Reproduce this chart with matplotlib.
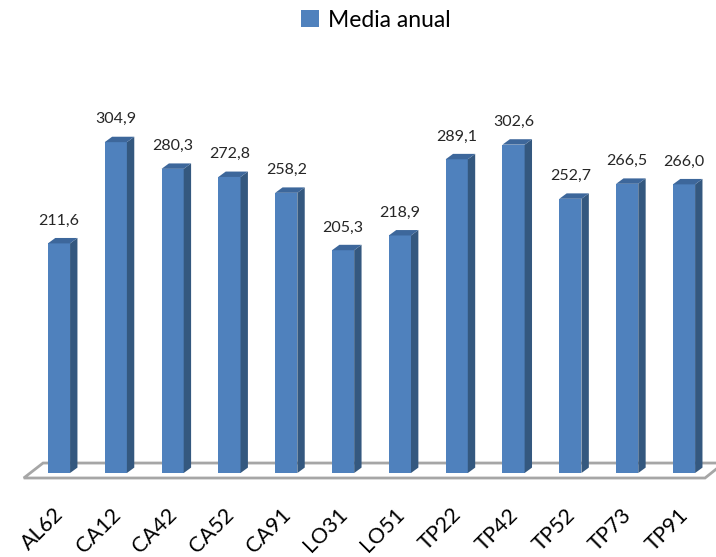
import matplotlib
matplotlib.use("Agg")
import matplotlib.pyplot as plt
from matplotlib.patches import Polygon, Patch
import numpy as np

plt.rcParams['font.family'] = ['Lato', 'DejaVu Sans']

# datos
estaciones = ["AL62", "CA12", "CA42", "CA52", "CA91", "LO31", "LO51",
              "TP22", "TP42", "TP52", "TP73", "TP91"]
media_anual = [211.6, 304.9, 280.3, 272.8, 258.2, 205.3, 218.9,
               289.1, 302.6, 252.7, 266.5, 266.0]
etiquetas = ["211,6", "304,9", "280,3", "272,8", "258,2", "205,3", "218,9",
             "289,1", "302,6", "252,7", "266,5", "266,0"]

c_frente = "#4F81BD"
c_lado = "#34587F"
c_techo = "#3D679B"

fig = plt.figure(figsize=(7.16, 5.57), dpi=100)
ax = fig.add_axes([0, 0, 1, 1])
ax.set_xlim(-1.038, 11.563)
ax.set_ylim(-77.4, 435.9)
ax.axis("off")

ancho = 0.39
dx, dy = 0.13, 5.0   # profundidad del efecto 3D

# suelo
suelo = Polygon([(-0.62, -4.6), (11.37, -4.6), (11.70, 9.2), (-0.28, 9.2)],
                closed=True, facecolor="white", edgecolor="#A6A6A6", lw=2, zorder=1)
ax.add_patch(suelo)

x = np.arange(len(estaciones))
barras = ax.bar(x, media_anual, width=ancho, color=c_frente, zorder=3)
for xi, v in zip(x, media_anual):
    x0, x1 = xi - ancho / 2, xi + ancho / 2
    ax.add_patch(Polygon([(x1, 0), (x1 + dx, dy), (x1 + dx, v + dy), (x1, v)],
                         facecolor=c_lado, edgecolor="none", zorder=3))
    ax.add_patch(Polygon([(x0, v), (x1, v), (x1 + dx, v + dy), (x0 + dx, v + dy)],
                         facecolor=c_techo, edgecolor="none", zorder=3))

for xi, v, t in zip(x, media_anual, etiquetas):
    ax.text(xi, v + 21, t, ha="center", va="center", fontsize=11.5, color="#262626")

for xi, nombre in zip(x, estaciones):
    ax.text(xi - 0.1, -29, nombre, rotation=45, rotation_mode="anchor",
            ha="right", va="top", fontsize=15.5, color="black")

fig.legend(handles=[Patch(facecolor=c_frente, label="Media anual")],
           loc="center", bbox_to_anchor=(0.525, 0.964), frameon=False,
           fontsize=16.5, handlelength=0.8, handleheight=0.8, handletextpad=0.4)

fig.savefig("out.png", dpi=100)
